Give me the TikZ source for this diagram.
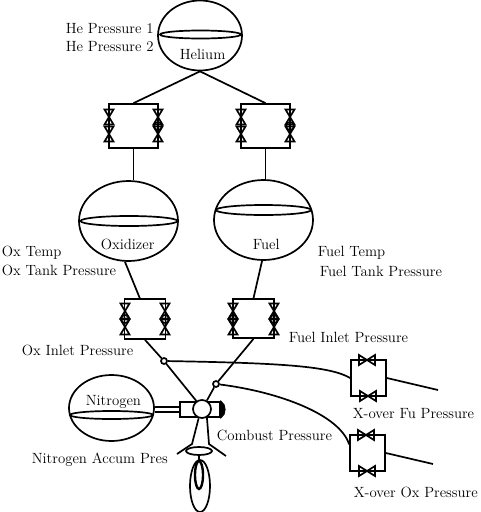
\documentclass[tikz,border=0pt]{standalone}
\usepackage{tikz}
\usetikzlibrary{shapes.geometric, calc}
\newcommand{\ValveV}[2]{%
  \draw[valve] (#1-4.5,#2-7.5) -- (#1+4.5,#2-7.5) -- (#1-4.5,#2+7.5) -- (#1+4.5,#2+7.5) -- cycle;}
\newcommand{\ValveH}[2]{%
  \draw[valve] (#1-8,#2-5) -- (#1-8,#2+5) -- (#1+8,#2-5) -- (#1+8,#2+5) -- cycle;}
\newcommand{\GaugeV}[2]{\draw[valve] (#1,#2) circle (4);}

\begin{document}
\begin{tikzpicture}[
  x=1pt, y=-1pt,
  line width=1.7pt,
  tank/.style={draw, ellipse, inner sep=0pt, fill=white},
  level/.style={draw, ellipse, inner sep=0pt},
  valvebox/.style={draw, rectangle, inner sep=0pt},
  junction/.style={draw, circle, inner sep=0pt, minimum size=6pt},
  valve/.style={line width=1.7pt},
  lbl/.style={anchor=base west, inner sep=0pt, font=\fontsize{14.8}{17}\selectfont},
  line/.style={line width=1.7pt}
]
\useasboundingbox (0,0) rectangle (480,512);

% tanks
\node[tank, minimum width=84pt, minimum height=70pt] (helium) at (200,35.5) {};
\node[level, minimum width=81pt, minimum height=8pt] (heliumlvl) at (200.5,34.5) {};
\node[tank, minimum width=99pt, minimum height=80pt] (oxtank) at (128.5,221) {};
\node[level, minimum width=97pt, minimum height=10pt] (oxlvl) at (129,221) {};
\node[tank, minimum width=99pt, minimum height=80pt] (futank) at (263.5,220) {};
\node[level, minimum width=95pt, minimum height=10pt] (fulvl) at (263.5,210) {};
\node[tank, minimum width=85pt, minimum height=66pt] (nitrogen) at (111.5,408) {};
\node[level, minimum width=83pt, minimum height=8pt] (nitrolvl) at (111.5,415) {};

% valve boxes
\node[valvebox, minimum width=49pt, minimum height=44pt] (hebox1) at (133.5,126) {};
\node[valvebox, minimum width=49pt, minimum height=44pt] (hebox2) at (265.5,126) {};
\node[valvebox, minimum width=41pt, minimum height=40pt] (oxbox) at (145,319) {};
\node[valvebox, minimum width=41pt, minimum height=39pt] (fubox) at (253.5,318.5) {};
\node[valvebox, minimum width=35pt, minimum height=36pt] (xfubox) at (368.5,378) {};
\node[valvebox, minimum width=35pt, minimum height=36pt] (xoxbox) at (367.5,453) {};

% valves
\foreach \vx/\vy in {109/117, 109/134, 158/117, 158/134, 241/117, 241/134, 290/117, 290/134,
                     125/311, 125/327, 165/311, 165/327, 233/311, 233/327, 274/311, 274/327}
  \ValveV{\vx}{\vy};
\foreach \vx/\vy in {158/126, 290/126, 125/319, 165/319, 233/319, 274/319}
  \GaugeV{\vx}{\vy};
\foreach \vx/\vy in {367/360, 368/396, 366/435, 367/471}
  \ValveH{\vx}{\vy};

% engine
\node[valvebox, minimum width=40pt, minimum height=15pt] (chamber) at (200,409.5) {};
\node[draw, circle, fill=white, inner sep=0pt, minimum size=18pt] (core) at (202,409) {};
\node[level, minimum width=26pt, minimum height=8pt] (bell) at (199,451) {};
\node[level, minimum width=20pt, minimum height=52pt] (plume) at (200,486) {};
\node[level, line width=2.4pt, minimum width=8pt, minimum height=28pt] (flame) at (199,475) {};
\coordinate (throatl) at (192,444);
\coordinate (throatr) at (209,444);
\coordinate (flarel) at (177,454);
\coordinate (flarer) at (226,456);

% junctions
\node[junction] (oxjoin) at (164,361) {};
\node[junction] (fujoin) at (216,384) {};
\coordinate (xfuout) at (438,390);
\coordinate (xoxout) at (433,464);

\draw[line] (helium.south) -- (hebox1.north);
\draw[line] (helium.south) -- (hebox2.north);
\draw[line] (hebox1.south) -- (hebox1.south |- oxtank.north);
\draw[line] (hebox2.south) -- (hebox2.south |- futank.north);
\draw[line] (oxtank.265) -- (oxbox.104);
\draw[line] (futank.268) -- (fubox.north);
\draw[line] (oxbox.south) -- (oxjoin);
\draw[line] (oxjoin) -- (core.125);
\draw[line] (fubox.south) -- (fujoin);
\draw[line] (fujoin) -- (core.60);
\draw[line] (oxjoin) .. controls (280,363) and (330,366) .. (xfubox.west);
\draw[line] (fujoin) .. controls (280,392) and (340,415) .. (xoxbox.155);
\draw[line] (xfubox.east) -- (xfuout);
\draw[line] (xoxbox.east) -- (xoxout);
\draw[line] ([yshift=1pt]nitrogen.east) -- ([yshift=2.5pt]chamber.west);
\draw[line] ([yshift=-4pt]nitrogen.east) -- ([yshift=-2.5pt]chamber.west);
\draw[fill=black, line width=1pt] (chamber.north east) to[bend left=60] (chamber.south east) -- cycle;
\draw[line] (core.250) -- (throatl) -- (flarel);
\draw[line] (core.300) -- (throatr) -- (flarer);
\draw[line width=2.4pt] (bell.south) -- (flame.north);

% labels
\node[lbl] (hep1) at (65,33) {He Pressure 1};
\node[lbl] (hep2) at (65,51) {He Pressure 2};
\node[lbl] (helbl) at (179,59) {Helium};
\node[lbl] (oxlbl) at (100,249) {Oxidizer};
\node[lbl] (fulbl) at (252,249) {Fuel};
\node[lbl] (oxtemp) at (1,256) {Ox Temp};
\node[lbl] (oxtankp) at (1,275) {Ox Tank Pressure};
\node[lbl] (futemp) at (317,256) {Fuel Temp};
\node[lbl] (futankp) at (319,276) {Fuel Tank Pressure};
\node[lbl] (fuinlet) at (288,342) {Fuel Inlet Pressure};
\node[lbl] (oxinlet) at (21,355) {Ox Inlet Pressure};
\node[lbl] (nitrolbl) at (85,405) {Nitrogen};
\node[lbl] (xfulbl) at (352,418) {X-over Fu Pressure};
\node[lbl] (combust) at (216,440) {Combust Pressure};
\node[lbl] (accum) at (31,463) {Nitrogen Accum Pres};
\node[lbl] (xoxlbl) at (353,497) {X-over Ox Pressure};
\end{tikzpicture}
\end{document}
